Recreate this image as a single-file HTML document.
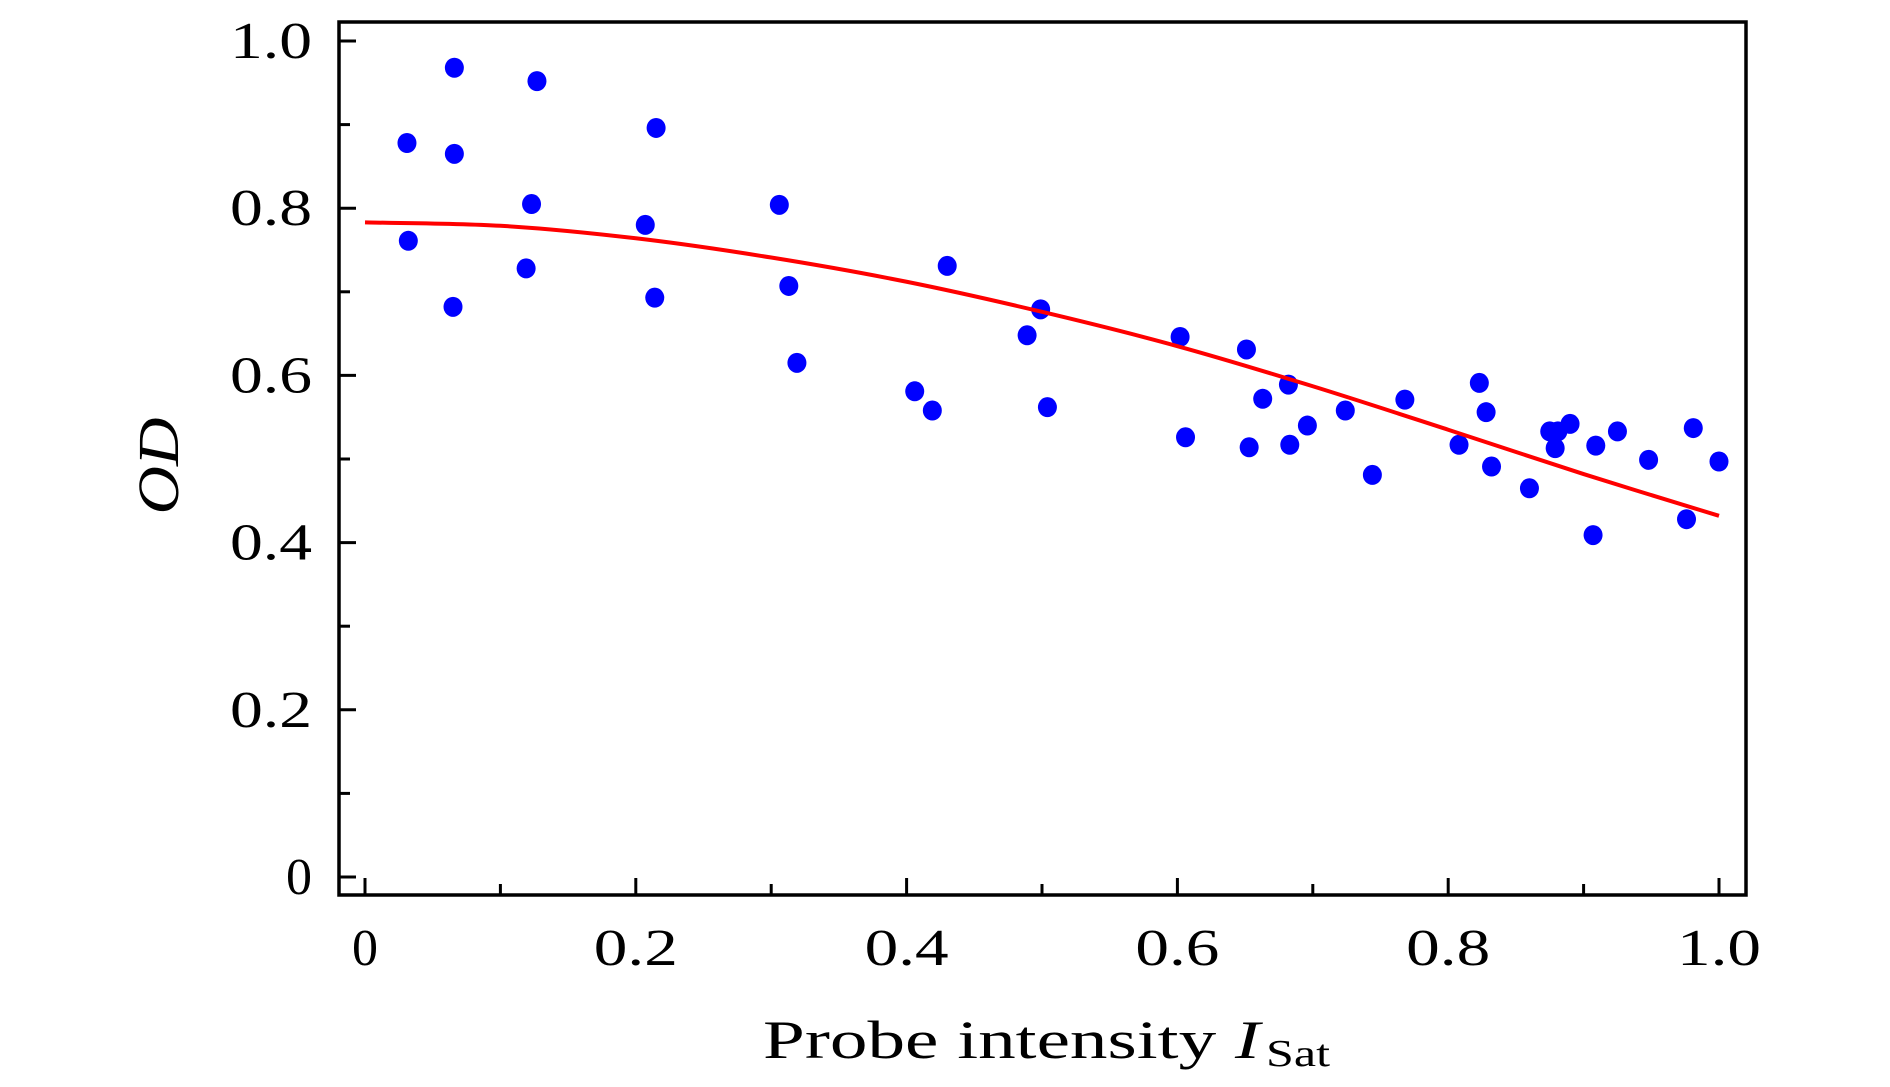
<!DOCTYPE html>
<html><head><meta charset="utf-8"><style>
html,body{margin:0;padding:0;background:#fff;}
svg{display:block;font-family:"Liberation Serif",serif;}
</style></head><body>
<svg id="chart" width="1890" height="1087" viewBox="0 0 1890 1087" xmlns="http://www.w3.org/2000/svg">
<g id="marks"></g>
<rect x="339" y="22" width="1407" height="873" fill="none" stroke="#000" stroke-width="3.5"/>
<g id="axes"></g>
<text x="763" y="1058" font-size="54" textLength="497" lengthAdjust="spacingAndGlyphs">Probe intensity <tspan font-style="italic">I</tspan></text>
<text x="1266" y="1066" font-size="38" textLength="64" lengthAdjust="spacingAndGlyphs">Sat</text>
<text transform="translate(178,466) rotate(-90)" font-size="58" font-style="italic" text-anchor="middle" textLength="97" lengthAdjust="spacingAndGlyphs">OD</text>
</svg>
<script>
const dataX=[0.031,0.032,0.066,0.066,0.065,0.127,0.123,0.119,0.215,0.207,0.214,0.306,0.313,0.319,0.406,0.419,0.43,0.489,0.499,0.504,0.602,0.606,0.651,0.653,0.663,0.682,0.683,0.696,0.724,0.744,0.768,0.808,0.823,0.828,0.832,0.86,0.875,0.881,0.879,0.89,0.907,0.909,0.925,0.948,0.976,0.981,1.0];
const dataY=[0.878,0.761,0.968,0.865,0.682,0.952,0.805,0.728,0.896,0.78,0.693,0.804,0.707,0.615,0.581,0.558,0.731,0.648,0.679,0.562,0.646,0.526,0.631,0.514,0.572,0.589,0.517,0.54,0.558,0.481,0.571,0.517,0.591,0.556,0.491,0.465,0.533,0.533,0.513,0.542,0.409,0.516,0.533,0.499,0.428,0.537,0.497];
const fitX=[0,0.1,0.2,0.3,0.4,0.5,0.6,0.7,0.8,0.9,1.0];
const fitY=[0.783,0.779,0.764,0.741,0.712,0.676,0.635,0.587,0.535,0.482,0.432];
const tickVals=[0,0.2,0.4,0.6,0.8,1.0];
const tickLabels=["0","0.2","0.4","0.6","0.8","1.0"];
const minorVals=[0.1,0.3,0.5,0.7,0.9];

const NS="http://www.w3.org/2000/svg";
const sx=v=>365+v*(1719-365);
const sy=v=>877-v*(877-41);
const marks=document.getElementById('marks');
const axes=document.getElementById('axes');
function mk(tag,attrs,parent){const e=document.createElementNS(NS,tag);for(const k in attrs)e.setAttribute(k,attrs[k]);parent.appendChild(e);return e;}

const pts=fitX.map((x,i)=>[sx(x),sy(fitY[i])]);
let d="M"+pts[0][0]+","+pts[0][1];
for(let i=0;i<pts.length-1;i++){
  const p0=pts[Math.max(i-1,0)],p1=pts[i],p2=pts[i+1],p3=pts[Math.min(i+2,pts.length-1)];
  const c1=[p1[0]+(p2[0]-p0[0])/6,p1[1]+(p2[1]-p0[1])/6];
  const c2=[p2[0]-(p3[0]-p1[0])/6,p2[1]-(p3[1]-p1[1])/6];
  d+=" C"+c1+" "+c2+" "+p2;
}
dataX.forEach((x,i)=>{
  const c=mk('ellipse',{cx:sx(x),cy:sy(dataY[i]),rx:9.5,ry:10,fill:'#0000ff'},marks);
  
  
});
const line=mk('path',{d:d,fill:'none',stroke:'#ff0000','stroke-width':4},marks);



tickVals.forEach((v,i)=>{
  const wide=tickLabels[i].length>1;
  const ty=mk('line',{x1:339,x2:356,y1:sy(v),y2:sy(v),stroke:'#000','stroke-width':3},axes);
  
  
  const ly=mk('text',{x:312,y:sy(v)+17,'font-size':52,'text-anchor':'end'},axes);
  if(wide){ly.setAttribute('textLength',82);ly.setAttribute('lengthAdjust','spacingAndGlyphs');}
  ly.textContent=tickLabels[i];
  
  
  const tx=mk('line',{x1:sx(v),x2:sx(v),y1:895,y2:878,stroke:'#000','stroke-width':3},axes);
  
  
  const lx=mk('text',{x:sx(v),y:965,'font-size':52,'text-anchor':'middle'},axes);
  if(wide){lx.setAttribute('textLength',84);lx.setAttribute('lengthAdjust','spacingAndGlyphs');}
  lx.textContent=tickLabels[i];
  
  
});
minorVals.forEach(v=>{
  const ty=mk('line',{x1:339,x2:350,y1:sy(v),y2:sy(v),stroke:'#000','stroke-width':3},axes);
  
  
  const tx=mk('line',{x1:sx(v),x2:sx(v),y1:895,y2:884,stroke:'#000','stroke-width':3},axes);
  
  
});
</script>
</body></html>
